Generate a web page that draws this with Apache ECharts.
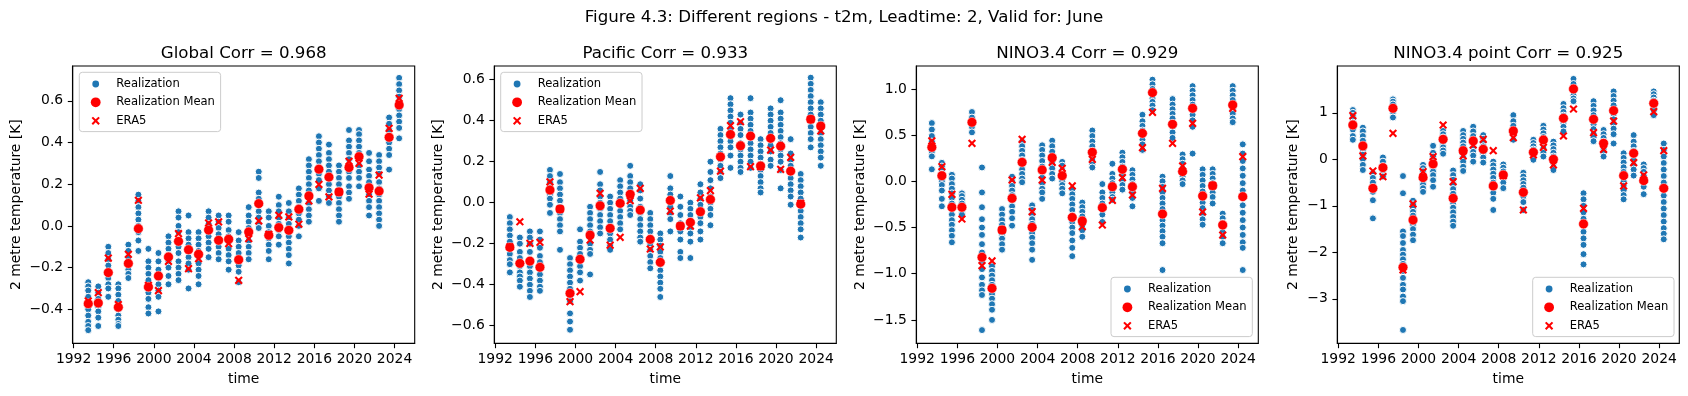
<!DOCTYPE html>
<html><head><meta charset="utf-8">
<script src="https://cdn.jsdelivr.net/npm/echarts@6/dist/echarts.min.js"></script>
<style>html,body{margin:0;padding:0;background:#fff}#c{width:1688px;height:396px}</style>
</head><body><div id="c"></div>
<script>
const years = [1993,1994,1995,1996,1997,1998,1999,2000,2001,2002,2003,2004,2005,2006,2007,2008,2009,2010,2011,2012,2013,2014,2015,2016,2017,2018,2019,2020,2021,2022,2023,2024];
const xTicks = [1992,1996,2000,2004,2008,2012,2016,2020,2024];
const yTicksGlobal = [-0.4,-0.2,0,0.2,0.4,0.6];
const yTicksPacific = [-0.6,-0.4,-0.2,0,0.2,0.4,0.6];
const yTicksNino = [-1.5,-1,-0.5,0,0.5,1];
const yTicksPoint = [-3,-2,-1,0,1];
const panelTitles = ['Global Corr = 0.968','Pacific Corr = 0.933','NINO3.4 Corr = 0.929','NINO3.4 point Corr = 0.925'];

const globalReal = [
[-0.27,-0.29,-0.31,-0.34,-0.37,-0.40,-0.43,-0.46,-0.48,-0.50],
[-0.29,-0.32,-0.35,-0.39,-0.41,-0.44,-0.48],
[-0.10,-0.13,-0.16,-0.19,-0.22,-0.25,-0.28,-0.30,-0.34],
[-0.28,-0.30,-0.33,-0.36,-0.40,-0.43,-0.45,-0.47,-0.48],
[-0.09,-0.12,-0.15,-0.18,-0.21,-0.23,-0.25],
[0.15,0.12,0.09,0.06,0.03,0.0,-0.03,-0.07,-0.12],
[-0.11,-0.17,-0.20,-0.23,-0.26,-0.29,-0.32,-0.35,-0.39,-0.42],
[-0.13,-0.17,-0.21,-0.25,-0.28,-0.31,-0.34,-0.41],
[-0.05,-0.08,-0.11,-0.14,-0.17,-0.20,-0.24,-0.28],
[0.07,0.04,0.0,-0.03,-0.07,-0.10,-0.13,-0.17,-0.20,-0.23,-0.26],
[0.05,-0.03,-0.06,-0.09,-0.12,-0.15,-0.18,-0.21,-0.30],
[-0.03,-0.06,-0.09,-0.12,-0.15,-0.18,-0.21,-0.24,-0.28],
[0.07,0.04,0.01,-0.02,-0.05,-0.08,-0.11,-0.15],
[0.05,0.02,-0.01,-0.04,-0.07,-0.10,-0.13,-0.16],
[0.05,0.02,-0.02,-0.05,-0.08,-0.11,-0.14,-0.17,-0.21],
[-0.03,-0.07,-0.10,-0.13,-0.16,-0.19,-0.22,-0.27],
[0.09,0.05,0.02,-0.01,-0.04,-0.07,-0.10,-0.13,-0.16],
[0.26,0.23,0.16,0.13,0.10,0.07,0.04,0.01,-0.01],
[0.07,0.04,0.0,-0.03,-0.06,-0.09,-0.12,-0.16],
[0.14,0.10,0.07,0.04,0.01,-0.02,-0.05,-0.09],
[0.11,0.07,0.04,0.01,-0.02,-0.05,-0.08,-0.11,-0.14,-0.18],
[0.18,0.15,0.12,0.09,0.06,0.03,0.0,-0.05],
[0.32,0.29,0.26,0.23,0.20,0.17,0.14,0.11,0.08,0.05,0.02],
[0.43,0.40,0.37,0.34,0.31,0.28,0.25,0.22,0.18,0.12],
[0.39,0.35,0.32,0.29,0.26,0.23,0.20,0.17,0.14,0.11],
[0.29,0.26,0.23,0.20,0.17,0.14,0.11,0.08,0.05,0.02],
[0.46,0.41,0.38,0.35,0.32,0.29,0.26,0.23,0.19,0.16,0.13],
[0.46,0.44,0.41,0.38,0.35,0.32,0.29,0.26,0.23,0.19],
[0.35,0.31,0.27,0.24,0.21,0.18,0.15,0.12,0.09,0.05],
[0.34,0.31,0.28,0.25,0.21,0.18,0.15,0.12,0.09,0.06,0.03,0.0],
[0.52,0.49,0.46,0.43,0.40,0.37,0.34,0.27],
[0.71,0.68,0.65,0.62,0.59,0.56,0.53,0.50,0.47,0.42]
];
const globalMean = [-0.373,-0.37,-0.224,-0.39,-0.18,-0.013,-0.293,-0.24,-0.149,-0.074,-0.114,-0.136,-0.02,-0.069,-0.064,-0.162,-0.029,0.107,-0.045,-0.008,-0.021,0.08,0.144,0.272,0.234,0.163,0.28,0.332,0.183,0.167,0.425,0.58];
const globalEra5 = [-0.36,-0.32,-0.154,-0.377,-0.136,0.123,-0.285,-0.31,-0.17,-0.037,-0.205,-0.157,0.014,0.019,-0.085,-0.261,-0.061,0.024,-0.04,0.051,0.043,0.008,0.12,0.199,0.139,0.163,0.31,0.30,0.152,0.244,0.468,0.612];

const pacificReal = [
[-0.07,-0.10,-0.13,-0.16,-0.19,-0.22,-0.25,-0.28,-0.30,-0.34],
[-0.17,-0.20,-0.24,-0.27,-0.31,-0.34,-0.36,-0.38,-0.41],
[-0.14,-0.17,-0.20,-0.24,-0.28,-0.31,-0.34,-0.37,-0.40,-0.43,-0.46],
[-0.14,-0.18,-0.22,-0.26,-0.29,-0.32,-0.35,-0.38,-0.41,-0.43],
[0.16,0.13,0.10,0.07,0.04,0.02,-0.01,-0.05],
[0.14,0.10,0.07,0.04,0.01,-0.02,-0.05,-0.08,-0.11,-0.14,-0.23],
[-0.27,-0.30,-0.33,-0.36,-0.39,-0.42,-0.45,-0.48,-0.54,-0.58,-0.62],
[-0.13,-0.19,-0.22,-0.25,-0.28,-0.31,-0.34,-0.38],
[-0.02,-0.05,-0.08,-0.11,-0.14,-0.17,-0.20,-0.23,-0.25,-0.35],
[0.15,0.09,0.06,0.03,0.0,-0.03,-0.06,-0.09,-0.12,-0.15],
[0.03,0.0,-0.03,-0.06,-0.09,-0.12,-0.15,-0.18,-0.21,-0.23],
[0.11,0.08,0.05,0.02,-0.01,-0.04,-0.07,-0.10,-0.13],
[0.18,0.13,0.10,0.07,0.04,0.01,-0.02,-0.04,-0.06],
[0.09,0.06,0.02,-0.02,-0.05,-0.08,-0.11,-0.14,-0.17,-0.19],
[-0.05,-0.08,-0.11,-0.14,-0.17,-0.20,-0.23,-0.26,-0.29,-0.32],
[-0.15,-0.18,-0.21,-0.24,-0.27,-0.30,-0.33,-0.36,-0.39,-0.42,-0.46],
[0.13,0.07,0.04,0.01,-0.02,-0.05,-0.08,-0.14],
[0.03,-0.02,-0.06,-0.10,-0.14,-0.18,-0.24,-0.27],
[0.0,-0.03,-0.06,-0.09,-0.12,-0.15,-0.19,-0.27],
[0.09,0.05,0.02,-0.01,-0.04,-0.07,-0.10,-0.14,-0.18],
[0.20,0.15,0.11,0.07,0.03,0.0,-0.03,-0.06,-0.11],
[0.36,0.33,0.30,0.27,0.24,0.21,0.18,0.15,0.12],
[0.51,0.48,0.45,0.42,0.39,0.36,0.33,0.30,0.27,0.23,0.17],
[0.43,0.39,0.36,0.33,0.29,0.26,0.23,0.20,0.17,0.15],
[0.51,0.44,0.41,0.38,0.35,0.32,0.29,0.26,0.23,0.20,0.17],
[0.31,0.28,0.25,0.22,0.19,0.16,0.13,0.10,0.07,0.05],
[0.46,0.43,0.40,0.37,0.34,0.31,0.28,0.25,0.21,0.18],
[0.50,0.44,0.41,0.38,0.35,0.32,0.29,0.26,0.23,0.20,0.16,0.07],
[0.31,0.24,0.21,0.18,0.15,0.12,0.09,0.06,0.03,-0.01],
[0.14,0.11,0.08,0.05,0.02,-0.01,-0.04,-0.07,-0.10,-0.13,-0.17],
[0.61,0.58,0.55,0.52,0.49,0.46,0.43,0.40,0.37,0.34,0.31,0.27],
[0.49,0.46,0.43,0.40,0.37,0.34,0.31,0.28,0.25,0.22,0.18]
];
const pacificMean = [-0.218,-0.296,-0.285,-0.315,0.062,-0.031,-0.442,-0.276,-0.158,-0.015,-0.125,-0.003,0.041,-0.036,-0.179,-0.291,0.011,-0.114,-0.096,-0.044,0.016,0.224,0.333,0.278,0.325,0.179,0.314,0.276,0.154,-0.007,0.407,0.374];
const pacificEra5 = [-0.215,-0.093,-0.198,-0.193,0.102,-0.031,-0.483,-0.434,-0.182,0.046,-0.207,-0.169,0.01,0.07,-0.226,-0.216,-0.041,-0.114,-0.114,0.024,0.059,0.154,0.376,0.395,0.176,0.176,0.257,0.163,0.221,-0.003,0.407,0.35];

const ninoReal = [
[0.63,0.56,0.49,0.43,0.37,0.32,0.27,0.13],
[0.20,0.16,0.12,0.08,0.04,0.0,-0.04,-0.10,-0.19,-0.27],
[0.07,0.03,-0.03,-0.08,-0.13,-0.18,-0.24,-0.30,-0.36,-0.42,-0.47,-0.53,-0.59,-0.66],
[-0.13,-0.16,-0.20,-0.24,-0.28,-0.32,-0.36],
[0.75,0.69,0.64,0.59,0.53],
[0.15,-0.12,-0.28,-0.41,-0.50,-0.58,-0.68,-0.77,-0.86,-0.95,-1.04,-1.12,-1.18,-1.23,-1.61],
[-0.92,-0.97,-1.02,-1.07,-1.12,-1.17,-1.22,-1.27,-1.33,-1.39,-1.50],
[-0.30,-0.36,-0.42,-0.47,-0.52,-0.57,-0.62,-0.68,-0.74],
[0.05,0.0,-0.05,-0.10,-0.15,-0.21,-0.27,-0.33,-0.40,-0.48],
[0.43,0.38,0.33,0.28,0.23,0.18,0.13,0.08,0.03,-0.01],
[-0.26,-0.31,-0.36,-0.41,-0.46,-0.51,-0.56,-0.61,-0.67,-0.74,-0.85],
[0.39,0.34,0.28,0.22,0.16,0.10,0.04,-0.02,-0.08,-0.12,-0.19],
[0.44,0.38,0.32,0.26,0.20,0.14,0.08,0.03],
[0.21,0.17,0.12,0.08,0.04,0.0,-0.04,-0.08,-0.13],
[-0.09,-0.14,-0.19,-0.25,-0.31,-0.37,-0.44,-0.50,-0.56,-0.64,-0.72,-0.81],
[-0.23,-0.28,-0.33,-0.38,-0.43,-0.48,-0.53,-0.60],
[0.55,0.49,0.43,0.38,0.33,0.28,0.23,0.18,0.15],
[-0.03,-0.12,-0.18,-0.24,-0.30,-0.36,-0.44],
[0.19,0.08,0.03,-0.02,-0.07,-0.12,-0.17,-0.20],
[0.31,0.26,0.21,0.16,0.11,0.06,0.01,-0.04,-0.09],
[0.12,0.07,0.02,-0.03,-0.08,-0.13,-0.18,-0.27],
[0.72,0.65,0.60,0.55,0.50,0.45,0.40,0.34],
[1.10,1.05,1.00,0.95,0.90,0.86,0.82,0.77],
[0.05,0.0,-0.06,-0.12,-0.18,-0.24,-0.30,-0.36,-0.42,-0.48,-0.54,-0.60,-0.67,-0.96],
[0.89,0.83,0.78,0.73,0.68,0.63,0.58,0.53,0.47],
[0.29,0.24,0.19,0.14,0.09,0.05,0.01,-0.03],
[1.03,0.98,0.93,0.88,0.83,0.78,0.72,0.66,0.59,0.30],
[0.13,0.07,0.01,-0.05,-0.11,-0.17,-0.23,-0.29,-0.35,-0.41,-0.47],
[0.13,0.08,0.03,-0.02,-0.07,-0.12,-0.17,-0.24],
[-0.35,-0.40,-0.45,-0.50,-0.55,-0.60,-0.67],
[1.03,0.98,0.93,0.88,0.83,0.78,0.73,0.68,0.64],
[0.40,0.30,0.22,0.14,0.06,-0.02,-0.10,-0.18,-0.26,-0.34,-0.42,-0.50,-0.58,-0.66,-0.72,-0.96]
];
const ninoMean = [0.368,0.061,-0.281,-0.281,0.639,-0.822,-1.158,-0.527,-0.184,0.206,-0.498,0.123,0.256,0.061,-0.39,-0.429,0.314,-0.285,-0.058,0.13,-0.058,0.519,0.96,-0.354,0.617,0.105,0.79,-0.159,-0.047,-0.473,0.826,-0.166];
const ninoEra5 = [0.437,0.159,-0.141,-0.408,0.411,-0.913,-0.862,-0.527,0.014,0.455,-0.328,0.014,0.206,0.141,-0.05,-0.49,0.238,-0.473,-0.206,0.04,-0.148,0.364,0.747,-0.076,0.411,0.166,0.628,-0.332,-0.047,-0.581,0.79,0.267];

const pointReal = [
[1.06,1.00,0.93,0.86,0.79,0.72,0.64,0.50,0.42],
[0.68,0.60,0.50,0.40,0.30,0.20,0.10,0.0,-0.12,-0.23],
[-0.30,-0.40,-0.50,-0.60,-0.70,-0.88,-1.27],
[0.04,-0.05,-0.15,-0.25,-0.33,-0.37],
[1.29,1.24,1.18,1.10,1.02,0.90],
[-0.36,-0.73,-1.55,-1.65,-1.80,-1.95,-2.05,-2.15,-2.25,-2.40,-2.55,-2.70,-2.80,-2.95,-3.05,-3.67],
[-0.89,-0.97,-1.05,-1.13,-1.21,-1.30,-1.40,-1.50,-1.62,-1.74],
[-0.12,-0.19,-0.26,-0.33,-0.40,-0.47,-0.54,-0.62,-0.70],
[0.29,0.14,0.06,-0.02,-0.10,-0.18,-0.26,-0.34,-0.45,-0.59],
[0.61,0.54,0.47,0.40,0.33,0.26,0.19,0.12],
[-0.24,-0.34,-0.44,-0.54,-0.64,-0.74,-0.84,-0.94,-1.04,-1.14,-1.24,-1.34,-1.43],
[0.61,0.52,0.44,0.36,0.28,0.20,0.12,0.04,-0.05,-0.16,-0.25],
[0.70,0.60,0.50,0.42,0.33,0.24,0.16,0.08,-0.05],
[0.52,0.44,0.36,0.28,0.20,0.12,0.04,-0.07],
[-0.05,-0.13,-0.22,-0.31,-0.40,-0.50,-0.60,-0.72,-0.85,-1.09],
[-0.11,-0.18,-0.26,-0.34,-0.42,-0.50,-0.62],
[0.95,0.82,0.72,0.62,0.53,0.42],
[-0.29,-0.37,-0.45,-0.53,-0.61,-0.70,-0.80,-0.92,-1.09],
[0.42,0.35,0.28,0.21,0.14,0.07,-0.01],
[0.72,0.64,0.56,0.48,0.40,0.32,0.24,0.14,0.06],
[0.38,0.30,0.22,0.14,0.06,-0.02,-0.10,-0.17,-0.23],
[1.19,1.10,1.02,0.94,0.86,0.78,0.70,0.60],
[1.73,1.62,1.53,1.45,1.38,1.31,1.25],
[-0.73,-0.86,-1.00,-1.14,-1.28,-1.42,-1.56,-1.70,-1.84,-2.04,-2.26],
[1.25,1.15,1.05,0.95,0.85,0.75,0.65,0.55,0.47,0.39],
[0.63,0.54,0.46,0.38,0.30,0.22,0.14,0.06],
[1.46,1.36,1.26,1.16,1.06,0.96,0.86,0.76,0.66,0.54,0.34],
[0.13,0.03,-0.07,-0.17,-0.27,-0.37,-0.47,-0.57,-0.67,-0.77,-0.86],
[0.52,0.38,0.28,0.18,0.08,-0.02,-0.12,-0.22,-0.35],
[-0.11,-0.19,-0.27,-0.35,-0.43,-0.51,-0.59,-0.75],
[1.46,1.40,1.33,1.26,1.19,1.12,1.05,0.95],
[0.34,0.20,0.06,-0.08,-0.22,-0.36,-0.50,-0.64,-0.78,-0.92,-1.06,-1.20,-1.34,-1.48,-1.60,-1.72]
];
const pointMean = [0.738,0.287,-0.624,-0.179,1.097,-2.323,-1.305,-0.394,-0.1,0.43,-0.839,0.186,0.394,0.215,-0.573,-0.337,0.609,-0.71,0.151,0.416,0.0,0.882,1.513,-1.391,0.86,0.344,1.047,-0.351,0.129,-0.459,1.204,-0.624];
const pointEra5 = [0.939,0.072,-0.251,-0.373,0.559,-2.38,-0.96,-0.265,0.057,0.738,-0.48,0.072,0.308,0.43,0.186,-0.351,0.466,-1.09,0.093,0.258,-0.122,0.502,1.082,-1.054,0.573,0.215,0.824,-0.573,-0.072,-0.337,1.025,0.186];

// ---- layout / style ----
const FONT = 'DejaVu Sans';
const BLUE = '#1f77b4', RED = '#ff0000';
const X_SYMBOL = 'path://M0,1.8L1.8,0L5,3.2L8.2,0L10,1.8L6.8,5L10,8.2L8.2,10L5,6.8L1.8,10L0,8.2L3.2,5Z';
const LEG_REAL = 'path://M0,0M28,12M9,6A3.4,3.4 0 1 0 15.8,6A3.4,3.4 0 1 0 9,6Z';
const LEG_MEAN = 'path://M0,0M28,12M7.5,6A4.9,4.9 0 1 0 17.3,6A4.9,4.9 0 1 0 7.5,6Z';
const LEG_X = 'path://M0,0M28,12M8.25,3.5L9.7,2.05L12.4,4.75L15.1,2.05L16.55,3.5L13.85,6.2L16.55,8.9L15.1,10.35L12.4,7.65L9.7,10.35L8.25,8.9L10.95,6.2Z';
const xOff = 0.46; // mid-June as fraction of year

const panels = [
  {left:72.7, real:globalReal, mean:globalMean, era:globalEra5, yMin:-0.563, yMax:0.767, ticks:yTicksGlobal, dec:1, nameGap:49, leg:{left:79.3, top:72.3}},
  {left:494.3, real:pacificReal, mean:pacificMean, era:pacificEra5, yMin:-0.686, yMax:0.667, ticks:yTicksPacific, dec:1, nameGap:49, leg:{left:500.7, top:72.3}},
  {left:916.3, real:ninoReal, mean:ninoMean, era:ninoEra5, yMin:-1.753, yMax:1.248, ticks:yTicksNino, dec:1, nameGap:49, leg:{left:1111, top:277.3}},
  {left:1337.3, real:pointReal, mean:pointMean, era:pointEra5, yMin:-3.957, yMax:2.007, ticks:yTicksPoint, dec:0, nameGap:37, leg:{left:1532.7, top:277.3}}
];
const GT = 66, GH = 277.3, GW = 342;

const fmt = (v, d) => { const s = Math.abs(v) < 1e-9 ? (0).toFixed(d) : Math.abs(v).toFixed(d); return (v < -1e-9 ? '\u2212' : '') + s; };

const grid = [], xAxis = [], yAxis = [], series = [], legend = [], graphic = [];
panels.forEach((p, i) => {
  grid.push({left:p.left, top:GT, width:GW, height:GH, show:true, borderColor:'#000', borderWidth:1.1, backgroundColor:'transparent', containLabel:false, outerBoundsMode:'none'});
  xAxis.push({type:'value', gridIndex:i, min:1991.91, max:2026.01, name:'time', nameLocation:'middle', nameGap:29,
    nameTextStyle:{fontFamily:FONT, fontSize:13.9, color:'#000'},
    axisLine:{show:true, onZero:false, lineStyle:{color:'#000', width:1.1}},
    axisTick:{show:true, length:4.9, lineStyle:{color:'#000', width:1.1}, customValues:xTicks},
    axisLabel:{fontFamily:FONT, fontSize:13.9, color:'#000', margin:9.5, customValues:xTicks, formatter:v=>String(Math.round(v))},
    splitLine:{show:false}});
  yAxis.push({type:'value', gridIndex:i, min:p.yMin, max:p.yMax, name:'2 metre temperature [K]', nameLocation:'middle', nameGap:p.nameGap, nameRotate:90,
    nameTextStyle:{fontFamily:FONT, fontSize:13.9, color:'#000'},
    axisLine:{show:true, onZero:false, lineStyle:{color:'#000', width:1.1}},
    axisTick:{show:true, length:4.9, lineStyle:{color:'#000', width:1.1}, customValues:p.ticks},
    axisLabel:{fontFamily:FONT, fontSize:13.9, color:'#000', margin:9.5, customValues:p.ticks, formatter:v=>fmt(v, p.dec)},
    splitLine:{show:false}});
  const realPts = [];
  years.forEach((y, k) => p.real[k].forEach(v => realPts.push([y + xOff, v])));
  series.push({type:'scatter', name:'Realization', xAxisIndex:i, yAxisIndex:i, data:realPts, symbol:'circle', symbolSize:7,
    itemStyle:{color:BLUE, borderColor:'#fff', borderWidth:1, opacity:1}, emphasis:{disabled:true}, z:2});
  series.push({type:'scatter', name:'Realization Mean', xAxisIndex:i, yAxisIndex:i, data:years.map((y,k)=>[y + xOff, p.mean[k]]), symbol:'circle', symbolSize:9.8,
    itemStyle:{color:RED, borderColor:'#fff', borderWidth:0.5, opacity:1}, emphasis:{disabled:true}, z:3});
  series.push({type:'scatter', name:'ERA5', xAxisIndex:i, yAxisIndex:i, data:years.map((y,k)=>[y + xOff, p.era[k]]), symbol:X_SYMBOL, symbolSize:8.2,
    itemStyle:{color:RED, opacity:1}, emphasis:{disabled:true}, z:4});
  legend.push({orient:'vertical', left:p.leg.left, top:p.leg.top, padding:[4.7,5.7,4,4], itemWidth:28, itemHeight:12, itemGap:4.3,
    selectedMode:false, backgroundColor:'rgba(255,255,255,0.8)', borderColor:'#cccccc', borderWidth:1, borderRadius:3,
    textStyle:{fontFamily:FONT, fontSize:11.57, color:'#000', lineHeight:14},
    data:[{name:'Realization', icon:LEG_REAL, itemStyle:{color:BLUE, borderWidth:0, opacity:1}},
          {name:'Realization Mean', icon:LEG_MEAN, itemStyle:{color:RED, borderWidth:0, opacity:1}},
          {name:'ERA5', icon:LEG_X, itemStyle:{color:RED, borderWidth:0, opacity:1}}]});
  graphic.push({type:'text', x:p.left + GW/2, y:53.3, style:{text:panelTitles[i], font:'16.67px "DejaVu Sans"', fill:'#000', textAlign:'center', textVerticalAlign:'middle'}});
});
graphic.push({type:'text', x:844, y:18, style:{text:'Figure 4.3: Different regions - t2m, Leadtime: 2, Valid for: June', font:'16.67px "DejaVu Sans"', fill:'#000', textAlign:'center', textVerticalAlign:'middle'}});

const chart = echarts.init(document.getElementById('c'), null, {renderer:'canvas'});
chart.setOption({animation:false, backgroundColor:'#fff', grid, xAxis, yAxis, series, legend, graphic, tooltip:{show:false}});
</script></body></html>
